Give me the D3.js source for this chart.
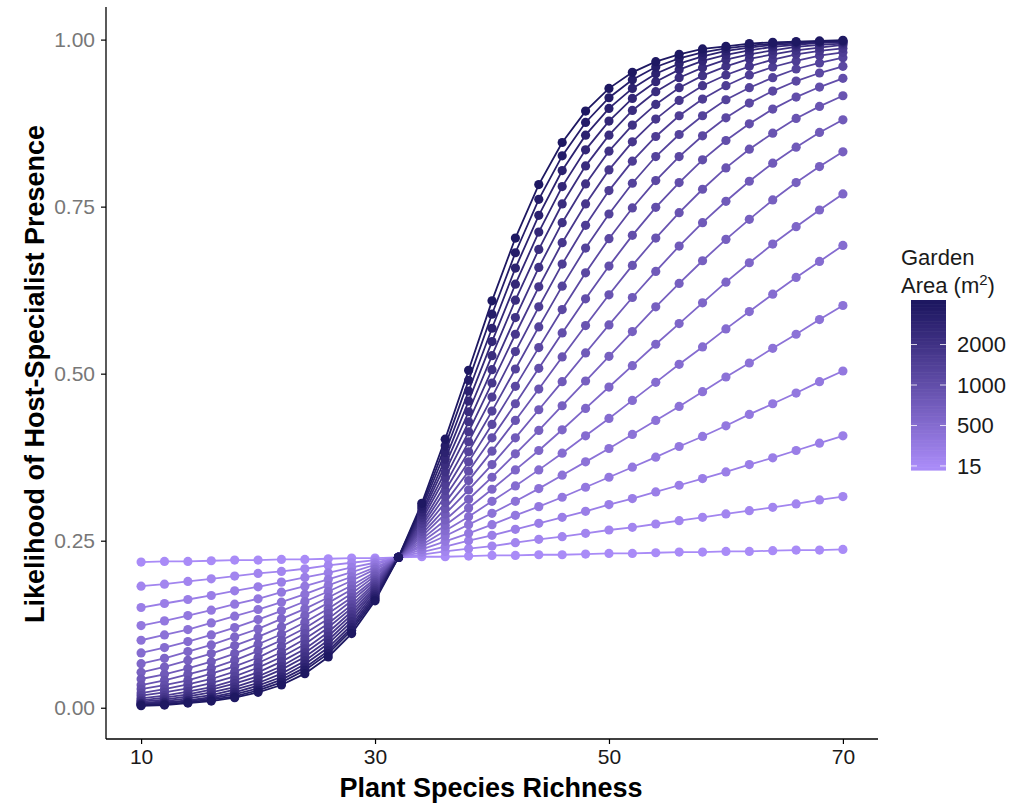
<!DOCTYPE html>
<html>
<head>
<meta charset="utf-8">
<script src="https://cdn.jsdelivr.net/npm/d3@7"></script>
<style>
  html, body { margin: 0; padding: 0; background: #ffffff; }
  svg { display: block; }
</style>
</head>
<body>
<svg id="chart" width="1019" height="808"></svg>
<script>
// ---- data ----
const richness = [10,12,14,16,18,20,22,24,26,28,30,32,34,36,38,40,42,44,46,48,50,52,54,56,58,60,62,64,66,68,70];

// predicted likelihood, one array per garden-area level (smallest to largest)
const s00 = [0.218,0.219,0.219,0.220,0.221,0.221,0.222,0.222,0.223,0.224,0.224,0.225,0.226,0.226,0.227,0.228,0.228,0.229,0.229,0.230,0.231,0.231,0.232,0.233,0.233,0.234,0.234,0.235,0.236,0.236,0.237];
const s01 = [0.182,0.185,0.189,0.193,0.197,0.201,0.204,0.208,0.213,0.217,0.221,0.225,0.229,0.234,0.238,0.242,0.247,0.252,0.256,0.261,0.266,0.270,0.275,0.280,0.285,0.290,0.295,0.300,0.305,0.311,0.316];
const s02 = [0.150,0.156,0.162,0.168,0.175,0.181,0.188,0.195,0.202,0.210,0.217,0.225,0.233,0.241,0.250,0.258,0.267,0.276,0.285,0.294,0.304,0.313,0.323,0.333,0.343,0.353,0.364,0.374,0.385,0.396,0.407];
const s03 = [0.123,0.130,0.138,0.146,0.155,0.163,0.173,0.182,0.192,0.203,0.214,0.225,0.237,0.249,0.261,0.274,0.288,0.301,0.315,0.330,0.345,0.360,0.375,0.391,0.406,0.422,0.439,0.455,0.471,0.488,0.504];
const s04 = [0.101,0.109,0.117,0.127,0.137,0.147,0.158,0.170,0.183,0.196,0.210,0.225,0.241,0.257,0.274,0.291,0.309,0.328,0.348,0.368,0.388,0.409,0.430,0.451,0.473,0.495,0.516,0.538,0.559,0.581,0.602];
const s05 = [0.082,0.090,0.099,0.109,0.120,0.132,0.145,0.159,0.174,0.190,0.207,0.225,0.244,0.265,0.286,0.309,0.332,0.356,0.381,0.407,0.433,0.460,0.487,0.514,0.540,0.567,0.593,0.619,0.644,0.668,0.692];
const s06 = [0.066,0.074,0.084,0.094,0.106,0.118,0.133,0.148,0.165,0.183,0.203,0.225,0.248,0.273,0.299,0.327,0.356,0.385,0.416,0.448,0.480,0.512,0.544,0.575,0.606,0.637,0.666,0.694,0.720,0.745,0.769];
const s07 = [0.053,0.061,0.071,0.081,0.093,0.106,0.121,0.138,0.157,0.177,0.200,0.225,0.252,0.281,0.312,0.345,0.380,0.415,0.452,0.489,0.526,0.563,0.600,0.635,0.669,0.701,0.731,0.760,0.786,0.810,0.832];
const s08 = [0.043,0.050,0.059,0.069,0.081,0.095,0.110,0.128,0.148,0.171,0.197,0.225,0.256,0.290,0.326,0.364,0.404,0.446,0.488,0.531,0.573,0.614,0.653,0.691,0.726,0.758,0.788,0.815,0.839,0.861,0.880];
const s09 = [0.034,0.041,0.050,0.059,0.071,0.085,0.101,0.119,0.141,0.165,0.193,0.225,0.260,0.298,0.340,0.384,0.430,0.477,0.525,0.572,0.618,0.662,0.703,0.741,0.776,0.808,0.836,0.860,0.882,0.900,0.916];
const s10 = [0.028,0.034,0.041,0.051,0.062,0.075,0.092,0.111,0.133,0.160,0.190,0.225,0.264,0.307,0.354,0.404,0.455,0.508,0.561,0.612,0.661,0.707,0.749,0.786,0.820,0.849,0.874,0.896,0.914,0.929,0.942];
const s11 = [0.022,0.028,0.035,0.043,0.054,0.067,0.083,0.103,0.126,0.154,0.187,0.225,0.268,0.316,0.368,0.424,0.481,0.539,0.596,0.651,0.702,0.748,0.789,0.825,0.856,0.883,0.905,0.923,0.938,0.950,0.960];
const s12 = [0.018,0.023,0.029,0.037,0.047,0.060,0.076,0.095,0.120,0.149,0.184,0.225,0.272,0.325,0.383,0.444,0.507,0.570,0.631,0.688,0.739,0.785,0.825,0.858,0.886,0.910,0.928,0.943,0.956,0.965,0.973];
const s13 = [0.014,0.018,0.024,0.031,0.041,0.053,0.069,0.088,0.113,0.144,0.181,0.225,0.276,0.334,0.398,0.465,0.533,0.600,0.664,0.722,0.774,0.818,0.855,0.886,0.911,0.931,0.947,0.959,0.968,0.976,0.981];
const s14 = [0.011,0.015,0.020,0.027,0.036,0.047,0.062,0.082,0.107,0.139,0.178,0.225,0.281,0.344,0.413,0.486,0.559,0.630,0.696,0.754,0.805,0.847,0.881,0.909,0.931,0.947,0.960,0.970,0.978,0.983,0.987];
const s15 = [0.009,0.012,0.017,0.023,0.031,0.042,0.057,0.076,0.101,0.134,0.175,0.225,0.285,0.353,0.428,0.506,0.584,0.659,0.726,0.784,0.833,0.872,0.903,0.928,0.946,0.960,0.971,0.978,0.984,0.988,0.992];
const s16 = [0.007,0.010,0.014,0.019,0.027,0.037,0.051,0.070,0.096,0.129,0.172,0.225,0.289,0.363,0.443,0.527,0.610,0.686,0.754,0.811,0.857,0.894,0.922,0.943,0.958,0.970,0.978,0.984,0.989,0.992,0.994];
const s17 = [0.006,0.008,0.011,0.016,0.023,0.033,0.046,0.065,0.090,0.124,0.169,0.225,0.293,0.372,0.459,0.548,0.634,0.712,0.780,0.835,0.878,0.912,0.937,0.955,0.968,0.977,0.984,0.989,0.992,0.995,0.996];
const s18 = [0.005,0.007,0.010,0.014,0.020,0.029,0.042,0.060,0.085,0.120,0.166,0.225,0.298,0.382,0.474,0.568,0.658,0.737,0.804,0.857,0.897,0.927,0.949,0.964,0.975,0.983,0.988,0.992,0.994,0.996,0.997];
const s19 = [0.004,0.005,0.008,0.012,0.017,0.026,0.038,0.056,0.081,0.116,0.163,0.225,0.302,0.392,0.490,0.589,0.681,0.761,0.826,0.876,0.913,0.940,0.959,0.972,0.981,0.987,0.991,0.994,0.996,0.997,0.998];
const s20 = [0.003,0.004,0.007,0.010,0.015,0.023,0.034,0.051,0.076,0.111,0.160,0.225,0.306,0.402,0.505,0.609,0.703,0.783,0.846,0.893,0.927,0.951,0.967,0.978,0.986,0.990,0.994,0.996,0.997,0.998,0.999];

const seriesList = [s00,s01,s02,s03,s04,s05,s06,s07,s08,s09,s10,s11,s12,s13,s14,s15,s16,s17,s18,s19,s20];

const xTicks = [10, 30, 50, 70];
const yTicks = [0, 0.25, 0.5, 0.75, 1];
const legendTickIndex = [0, 5, 10, 15];
const legendTickLabels = ["15", "500", "1000", "2000"];

// ---- layout ----
const FONT = "'Liberation Sans', Arial, Helvetica, sans-serif";
const svg = d3.select("#chart");
const panel = { left: 106, right: 878, top: 7, bottom: 739 };

const allY = seriesList.flat();
const xExt = d3.extent(richness), yExt = d3.extent(allY);
const xPad = (xExt[1] - xExt[0]) * 0.05, yPad = (yExt[1] - yExt[0]) * 0.05;

const x = d3.scaleLinear().domain([xExt[0] - xPad, xExt[1] + xPad]).range([panel.left, panel.right]);
const y = d3.scaleLinear().domain([yExt[0] - yPad, yExt[1] + yPad]).range([panel.bottom, panel.top]);

const nSeries = seriesList.length;
const color = d3.scaleLinear()
  .domain([0, nSeries - 1])
  .range(["#a98bf7", "#1e1862"])
  .interpolate(d3.interpolateHcl);

// ---- marks ----
const line = d3.line().x((d, i) => x(richness[i])).y(d => y(d));
const gLines = svg.append("g");
seriesList.forEach((s, k) => {
  gLines.append("path")
    .datum(s)
    .attr("fill", "none")
    .attr("stroke", color(k))
    .attr("stroke-width", 1.8)
    .attr("d", line);
});
const gPts = svg.append("g");
seriesList.forEach((s, k) => {
  gPts.selectAll(null)
    .data(s)
    .enter().append("circle")
    .attr("cx", (d, i) => x(richness[i]))
    .attr("cy", d => y(d))
    .attr("r", 4.6)
    .attr("fill", color(k));
});

// ---- axes ----
const xAxis = d3.axisBottom(x).tickValues(xTicks).tickSize(5).tickPadding(5).tickFormat(d3.format("d"));
const gx = svg.append("g").attr("transform", `translate(0,${panel.bottom})`).call(xAxis);
gx.select(".domain").attr("d", `M${panel.left},0H${panel.right}`).attr("stroke", "#000").attr("stroke-width", 1.3);
gx.selectAll(".tick line").attr("stroke", "#000").attr("stroke-width", 1.2);
gx.selectAll(".tick text").attr("font-family", FONT).attr("font-size", 21).attr("fill", "#1a1a1a");

const yAxis = d3.axisLeft(y).tickValues(yTicks).tickSize(5).tickPadding(6).tickFormat(d3.format(".2f"));
const gy = svg.append("g").attr("transform", `translate(${panel.left},0)`).call(yAxis);
gy.select(".domain").attr("d", `M0,${panel.top}V${panel.bottom}`).attr("stroke", "#000").attr("stroke-width", 1.3);
gy.selectAll(".tick line").attr("stroke", "#000").attr("stroke-width", 1.2);
gy.selectAll(".tick text").attr("font-family", FONT).attr("font-size", 21).attr("fill", "#777777");

// axis titles
svg.append("text")
  .attr("x", 491)
  .attr("y", 797)
  .attr("text-anchor", "middle")
  .attr("font-family", FONT).attr("font-weight", "bold").attr("font-size", 27)
  .attr("fill", "#000")
  .text("Plant Species Richness");

svg.append("text")
  .attr("transform", `translate(44,374) rotate(-90)`)
  .attr("text-anchor", "middle")
  .attr("font-family", FONT).attr("font-weight", "bold").attr("font-size", 27)
  .attr("fill", "#000")
  .text("Likelihood of Host-Specialist Presence");

// ---- legend ----
const leg = { x: 911, w: 35, top: 300, bottom: 470 };
const legY = d3.scaleLinear().domain([-0.5, nSeries - 0.5]).range([leg.bottom, leg.top]);
const gLeg = svg.append("g");
const nBins = 120;
const binH = (leg.bottom - leg.top) / nBins;
d3.range(nBins).forEach(i => {
  const v = legY.invert(leg.bottom - (i + 0.5) * binH);
  gLeg.append("rect")
    .attr("x", leg.x)
    .attr("y", leg.bottom - (i + 1) * binH)
    .attr("width", leg.w)
    .attr("height", binH + 0.6)
    .attr("fill", color(Math.max(0, Math.min(nSeries - 1, v))));
});
legendTickIndex.forEach((k, i) => {
  const ty = legY(k);
  gLeg.append("line").attr("x1", leg.x).attr("x2", leg.x + 6).attr("y1", ty).attr("y2", ty)
    .attr("stroke", "#ffffff").attr("stroke-width", 1).attr("opacity", 0.8);
  gLeg.append("line").attr("x1", leg.x + leg.w - 6).attr("x2", leg.x + leg.w).attr("y1", ty).attr("y2", ty)
    .attr("stroke", "#ffffff").attr("stroke-width", 1).attr("opacity", 0.8);
  gLeg.append("text")
    .attr("x", leg.x + leg.w + 11)
    .attr("y", ty)
    .attr("dy", "0.36em")
    .attr("font-family", FONT).attr("font-size", 22).attr("fill", "#1a1a1a")
    .text(legendTickLabels[i]);
});
const title = gLeg.append("text")
  .attr("font-family", FONT).attr("font-size", 22).attr("fill", "#1a1a1a");
title.append("tspan").attr("x", 901).attr("y", 265).text("Garden");
const t2 = title.append("tspan").attr("x", 901).attr("y", 293).text("Area (m");
t2.append("tspan").attr("dy", -8).attr("font-size", 15).text("2");
title.append("tspan").attr("dy", 8).text(")");
</script>
</body>
</html>
